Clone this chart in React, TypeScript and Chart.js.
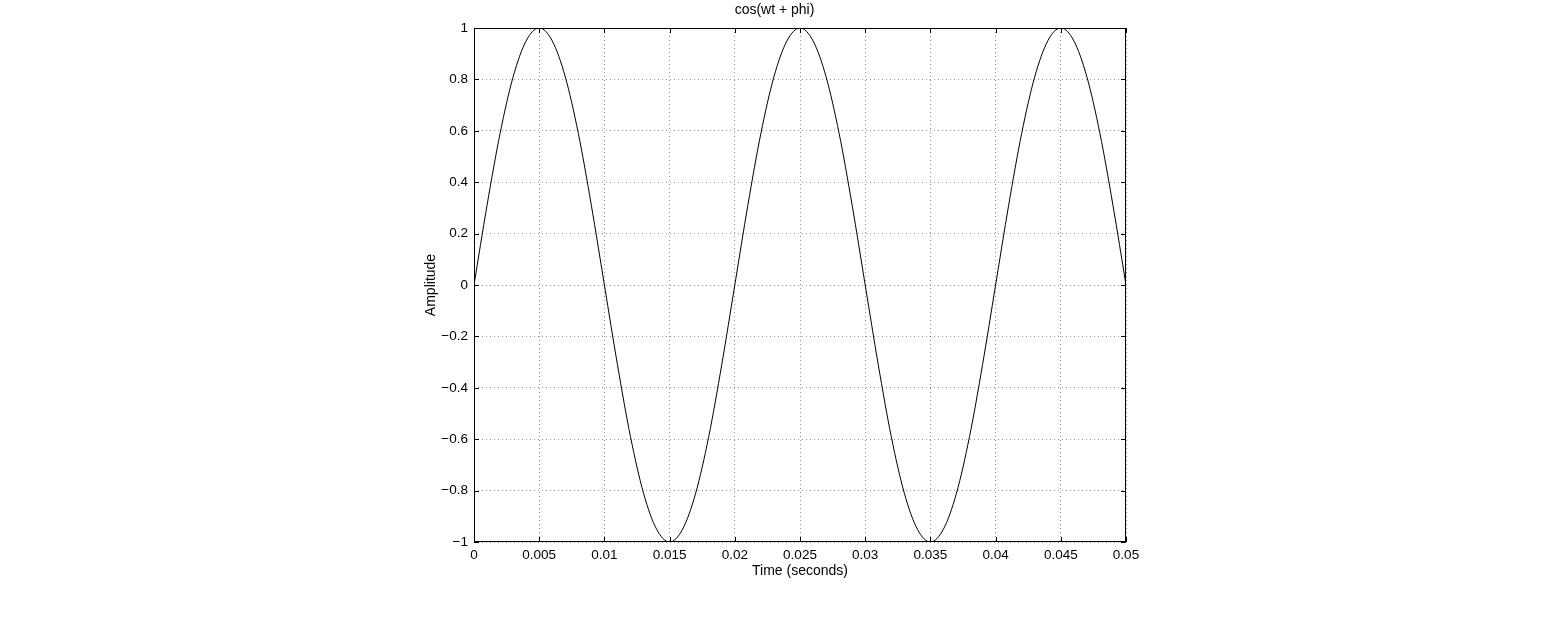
import React, { useEffect, useRef } from "react";
import { Chart, registerables, ChartConfiguration, Plugin } from "chart.js";

Chart.register(...registerables);

const time = [
  0, 0.001, 0.002, 0.003, 0.004, 0.005, 0.006, 0.007, 0.008, 0.009,
  0.01, 0.011, 0.012, 0.013, 0.014, 0.015, 0.016, 0.017, 0.018, 0.019,
  0.02, 0.021, 0.022, 0.023, 0.024, 0.025, 0.026, 0.027, 0.028, 0.029,
  0.03, 0.031, 0.032, 0.033, 0.034, 0.035, 0.036, 0.037, 0.038, 0.039,
  0.04, 0.041, 0.042, 0.043, 0.044, 0.045, 0.046, 0.047, 0.048, 0.049,
  0.05,
];
const amplitude = [
  0, 0.31, 0.59, 0.81, 0.95, 1, 0.95, 0.81, 0.59, 0.31,
  0, -0.31, -0.59, -0.81, -0.95, -1, -0.95, -0.81, -0.59, -0.31,
  0, 0.31, 0.59, 0.81, 0.95, 1, 0.95, 0.81, 0.59, 0.31,
  0, -0.31, -0.59, -0.81, -0.95, -1, -0.95, -0.81, -0.59, -0.31,
  0, 0.31, 0.59, 0.81, 0.95, 1, 0.95, 0.81, 0.59, 0.31,
  0,
];

const xTicks = [0, 0.005, 0.01, 0.015, 0.02, 0.025, 0.03, 0.035, 0.04, 0.045, 0.05];
const xTickLabels = ["0", "0.005", "0.01", "0.015", "0.02", "0.025", "0.03", "0.035", "0.04", "0.045", "0.05"];
const yTicks = [-1, -0.8, -0.6, -0.4, -0.2, 0, 0.2, 0.4, 0.6, 0.8, 1];
const yTickLabels = ["\u22121", "\u22120.8", "\u22120.6", "\u22120.4", "\u22120.2", "0", "0.2", "0.4", "0.6", "0.8", "1"];

const FONT = "'Liberation Sans', Arial, Helvetica, sans-serif";

// matlab style box with ticks pointing inwards on all four sides
const frame: Plugin<"line"> = {
  id: "frame",
  afterDatasetsDraw(chart) {
    const { ctx, chartArea, scales } = chart;
    const { left, right, top, bottom } = chartArea;
    const len = 5;
    ctx.save();
    ctx.strokeStyle = "#000";
    ctx.lineWidth = 1;
    ctx.beginPath();
    for (const v of xTicks) {
      const px = Math.round(scales.x.getPixelForValue(v)) + 0.5;
      ctx.moveTo(px, bottom);
      ctx.lineTo(px, bottom - len);
      ctx.moveTo(px, top);
      ctx.lineTo(px, top + len);
    }
    for (const v of yTicks) {
      const py = Math.round(scales.y.getPixelForValue(v)) + 0.5;
      ctx.moveTo(left, py);
      ctx.lineTo(left + len, py);
      ctx.moveTo(right, py);
      ctx.lineTo(right - len, py);
    }
    ctx.stroke();
    ctx.strokeRect(left + 0.5, top + 0.5, right - left - 1, bottom - top - 1);
    ctx.restore();
  },
};

export default function App() {
  const ref = useRef<HTMLCanvasElement | null>(null);

  useEffect(() => {
    const ctx = ref.current?.getContext("2d");
    if (!ctx) return;
    const config: ChartConfiguration<"line"> = {
      type: "line",
      data: {
        datasets: [
          {
            data: time.map((t, i) => ({ x: t, y: amplitude[i] })),
            borderColor: "#000",
            borderWidth: 1,
            pointRadius: 0,
            cubicInterpolationMode: "monotone",
          },
        ],
      },
      options: {
        animation: false,
        responsive: true,
        maintainAspectRatio: false,
        layout: { padding: { left: 423, right: 432, top: 0, bottom: 37 } },
        plugins: {
          legend: { display: false },
          tooltip: { enabled: false },
          title: {
            display: true,
            text: "cos(wt + phi)",
            color: "#000",
            font: { family: FONT, size: 14, weight: "normal" },
            padding: { top: 1.5, bottom: 9.7 },
          },
        },
        scales: {
          x: {
            type: "linear",
            min: 0,
            max: 0.05,
            afterBuildTicks: (s) => {
              s.ticks = xTicks.map((v) => ({ value: v }));
            },
            afterFit: (s) => {
              s.height = 38;
            },
            ticks: {
              color: "#000",
              padding: 5,
              maxRotation: 0,
              autoSkip: false,
              font: { family: FONT, size: 13.5 },
              callback: (_v, i) => xTickLabels[i],
            },
            grid: { color: "rgba(0,0,0,0.4)", drawTicks: false },
            border: { display: false, dash: [1, 3] },
            title: {
              display: true,
              text: "Time (seconds)",
              color: "#000",
              font: { family: FONT, size: 14 },
              padding: { top: 0, bottom: 0 },
            },
          },
          y: {
            type: "linear",
            min: -1,
            max: 1,
            afterBuildTicks: (s) => {
              s.ticks = yTicks.map((v) => ({ value: v }));
            },
            afterFit: (s) => {
              s.width = 51;
            },
            ticks: {
              color: "#000",
              padding: 6,
              autoSkip: false,
              font: { family: FONT, size: 13.5 },
              callback: (_v, i) => yTickLabels[i],
            },
            grid: { color: "rgba(0,0,0,0.4)", drawTicks: false },
            border: { display: false, dash: [1, 3] },
            title: {
              display: true,
              text: "Amplitude",
              color: "#000",
              font: { family: FONT, size: 14 },
              padding: { top: 0, bottom: 0 },
            },
          },
        },
      },
      plugins: [frame],
    };
    const chart = new Chart(ctx, config);
    return () => chart.destroy();
  }, []);

  return (
    <div style={{ position: "absolute", left: 0, top: 0, width: 1558, height: 617, background: "#fff" }}>
      <canvas ref={ref} />
    </div>
  );
}
